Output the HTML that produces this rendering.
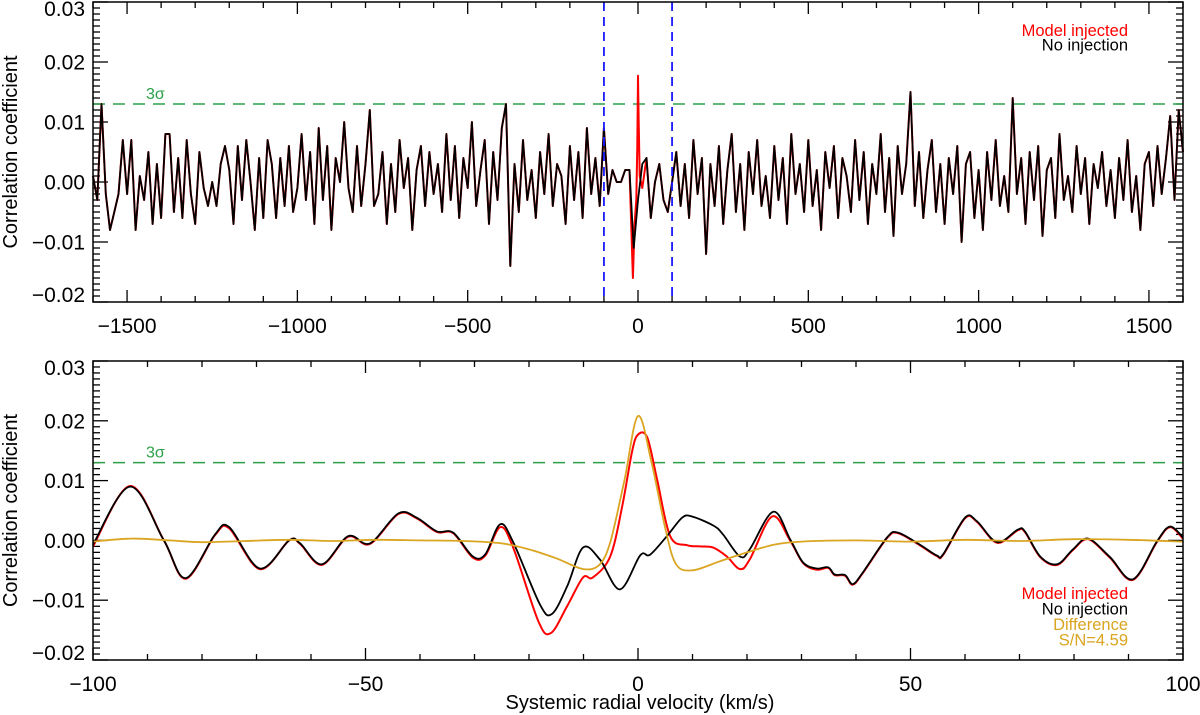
<!DOCTYPE html>
<html><head><meta charset="utf-8"><style>
body{margin:0;background:#fff;}
svg{display:block;font-family:"Liberation Sans",sans-serif;}
</style></head><body>
<svg id="chart" width="1200" height="715" viewBox="0 0 1200 715" xmlns="http://www.w3.org/2000/svg"></svg>
<script>
// ---- data ----
const topStartV = -1600;
const topStepV = 12.5;
const topBlack = [1,-3,13,-2,-8,-5,-2,7,-2,7,-8,1,-3,5,-7,3,-6,8,8,-5,
4,-6,7,-2,-7,5,-1,-4,0,-4,3,6,2,-7,6,-3,7,0,-8,4,
-6,7,3,-6,4,-4,6,-5,-1,8,-3,5,-7,9,-3,6,-8,4,0,10,
-1,-5,6,-4,3,12,-4,-2,5,-7,3,-5,7,-1,4,-8,2,6,-4,5,
-2,3,-5,8,-3,6,-6,4,-1,10,-4,2,7,-7,5,-3,9,13,-14,3,
-5,7,-3,2,-6,5,-2,8,-4,3,1,-7,6,-3,5,-6,9,-2,4,-4,
9,-2,2,0,0,2,2,-11,-3,3,4,-6,0,3,-3,-5,0,5,-4,3,
-6,7,-2,4,-12,3,-4,6,-7,2,8,-5,3,-8,5,-2,7,-4,1,-6,
6,-3,4,-7,8,-2,3,-5,7,-4,2,-8,5,-1,6,-6,4,1,-5,7,
-3,5,-7,3,-2,8,-5,4,-9,6,-2,3,15,-4,5,-6,2,7,-5,3,
-7,4,-2,6,-10,3,5,-6,2,-8,5,-3,7,-4,1,-5,14,-2,4,-7,
5,-3,6,-9,2,4,-6,8,-3,1,-5,6,-2,4,-7,3,-1,5,-4,2,
-6,4,-3,7,-5,1,-8,3,5,-4,6,-2,4,11,-3,12,5];
const topRedV = [-25,-15,-10,-5,-2,0,2,5,12.5];
const topRedY = [2,-16,-7,-3,6,17.7,10,1,-1];

const botBlackV = [-100,-93.2,-87,-83,-77.6,-75,-69.4,-64,-62,-58,-53.2,-49.2,-44,-40.6,-36.9,-33.9,-30.3,-28,-25.3,-22.9,-18,-15.8,-13,-10.1,-7,-3.3,0.4,2.2,5.3,8.1,9.9,13.8,15.6,18.7,20.5,24.8,27.9,30.3,32.8,34.9,36.1,38,39.4,41.3,45.7,47.7,51.7,54.8,56,60,62.2,65.9,69.7,71,73.8,76.9,79.8,82.6,86.6,90.8,95.2,97.6,100];
const botBlackY = [-0.7,9,0,-6.3,1,2.2,-4.7,0,-0.5,-4,0.7,-0.5,4.5,3.8,1.5,1.3,-2.7,-2.3,2.7,-0.3,-10.7,-12.3,-7.7,-1.2,-3.2,-8.2,-2.5,-2.4,0.7,3.8,4,2.5,1,-2.7,-1.5,4.8,0.2,-3.7,-4.7,-4.5,-5.7,-5.8,-7.3,-5.3,0.5,1.3,-0.7,-2.5,-2.3,3.8,3.2,-0.3,1.8,1.5,-2.7,-4,-1.5,0.3,-2.8,-6.5,-0.2,2.3,0.5];
const botRedV = [-100,-93.2,-87,-83,-77.6,-75,-69.4,-64,-62,-58,-53.2,-49.2,-44,-40.6,-36.9,-33.9,-30.3,-28,-25.3,-22.9,-18.3,-16,-13,-10.1,-8.3,-5.1,-2.9,-1.1,0,1.7,3.5,5.9,9,11.4,13.8,16.3,18.7,20.5,24.6,27.9,30.3,32.8,34.9,36.1,38,39.4,41.3,45.7,47.7,51.7,54.8,56,60,62.2,65.9,69.7,71,73.8,76.9,79.8,82.6,86.6,90.8,95.2,97.6,100];
const botRedY = [-1,9.1,0,-6.4,0.9,2,-4.8,0,-0.6,-4.1,0.6,-0.6,4.4,3.7,1.4,1.2,-2.9,-2.5,2.2,-1.2,-13.5,-15.5,-11,-6.2,-6.2,-2.7,5.7,14.8,17.7,17.2,10.2,0.7,-0.8,-1,-1.2,-2.7,-4.8,-3.2,4,0,-3.8,-4.9,-4.6,-5.8,-5.9,-7.4,-5.4,0.4,1.2,-0.8,-2.6,-2.4,3.7,3.1,-0.4,1.7,1.4,-2.8,-4.1,-1.6,0.2,-2.9,-6.6,-0.3,2.2,0.3];
const botDiffV = [-100,-93,-86,-80,-72,-64,-56,-48,-40,-32,-25,-20,-15,-10,-7,-5,-2.5,0,2.5,5,7,10,15,20,25,30,40,50,60,70,80,90,100];
const botDiffY = [-0.2,0.3,0,-0.3,-0.1,0.1,-0.1,0.1,0,-0.1,-0.5,-1.5,-3,-4.8,-4,0,10,20.8,13,2,-4,-5,-3.5,-2,-0.7,-0.2,0,-0.2,0.1,-0.1,0.2,0.1,-0.2];
const topXTicks = [-1500,-1000,-500,0,500,1000,1500];
const botXTicks = [-100,-50,0,50,100];
const yTicks = [-0.02,-0.01,0,0.01,0.02,0.03];
const yTickLabels = ["\u22120.02","\u22120.01","0.00","0.01","0.02","0.03"];
const sigma3 = 0.013;

// ---- drawing ----
const NS="http://www.w3.org/2000/svg";
const svg=document.getElementById('chart');
function mk(tag,attrs,parent){const e=document.createElementNS(NS,tag);for(const k in attrs)e.setAttribute(k,attrs[k]);(parent||svg).appendChild(e);return e;}
const L=93,R=1183;
function panel(name,top,bot,xmin,xmax,xTicks,xMinorStep){
  const g=mk('g',{});
  
  
  const sx=v=>L+(v-xmin)/(xmax-xmin)*(R-L);
  const sy=y=>bot-(y+0.02)/0.05*(bot-top);
  for(let i=-20;i<=30;i++){
    const y=sy(i/1000);const maj=(i%10===0);const len=maj?15:7;
    mk('line',{x1:L,x2:L+len,y1:y,y2:y,stroke:'#000','stroke-width':1.3},g);
    mk('line',{x1:R,x2:R-len,y1:y,y2:y,stroke:'#000','stroke-width':1.3},g);
  }
  yTicks.forEach((t,i)=>{
    let y=sy(t)+7.5; if(i===0) y=bot; if(i===yTicks.length-1) y=top+14;
    const tx=mk('text',{x:L-8,y:y,'text-anchor':'end','font-size':21},g);
    tx.textContent=yTickLabels[i];
    
    
  });
  for(let v=xmin;v<=xmax+1e-9;v+=xMinorStep){
    const x=sx(v);const maj=xTicks.some(t=>Math.abs(t-v)<1e-6);const len=maj?12:6;
    mk('line',{x1:x,x2:x,y1:bot,y2:bot-len,stroke:'#000','stroke-width':1.3},g);
    mk('line',{x1:x,x2:x,y1:top,y2:top+len,stroke:'#000','stroke-width':1.3},g);
  }
  xTicks.forEach(t=>{
    const tx=mk('text',{x:sx(t),y:bot+31,'text-anchor':'middle','font-size':21},g);
    tx.textContent=(t<0?'\u2212':'')+Math.abs(t);
    
    
  });
  const yt=mk('text',{x:0,y:0,'text-anchor':'middle','font-size':20,transform:`translate(17,${(top+bot)/2}) rotate(-90)`},g);
  yt.textContent='Correlation coefficient';
  
  
  const sl=mk('line',{x1:L,x2:R,y1:sy(sigma3),y2:sy(sigma3),stroke:'#2ca048','stroke-width':1.5,'stroke-dasharray':'12,8'},g);
  
  
  const st=mk('text',{x:146,y:sy(sigma3)-5,'font-size':16,fill:'#2ca048'},g);
  st.textContent='3\u03c3';
  
  
  return {g,sx,sy};
}
function line(g,pts,color,w,name){
  const p=mk('polyline',{points:pts.map(q=>q[0].toFixed(1)+','+q[1].toFixed(1)).join(' '),fill:'none',stroke:color,'stroke-width':w,'stroke-linejoin':'round'},g);
  
  
}
function smooth(g,pts,color,w,name){
  let d='M'+pts[0][0].toFixed(1)+','+pts[0][1].toFixed(1);
  for(let i=0;i<pts.length-1;i++){
    const p0=pts[Math.max(0,i-1)],p1=pts[i],p2=pts[i+1],p3=pts[Math.min(pts.length-1,i+2)];
    const c1=[p1[0]+(p2[0]-p0[0])/6,p1[1]+(p2[1]-p0[1])/6];
    const c2=[p2[0]-(p3[0]-p1[0])/6,p2[1]-(p3[1]-p1[1])/6];
    d+=` C${c1[0].toFixed(1)},${c1[1].toFixed(1)} ${c2[0].toFixed(1)},${c2[1].toFixed(1)} ${p2[0].toFixed(1)},${p2[1].toFixed(1)}`;
  }
  const p=mk('path',{d:d,fill:'none',stroke:color,'stroke-width':w,'stroke-linejoin':'round'},g);
  
  
}
function legend(g,items,yStart,dy){
  items.forEach((it,i)=>{
    const t=mk('text',{x:1128,y:yStart+i*dy,'text-anchor':'end','font-size':16.5,fill:it[1]},g);
    t.textContent=it[0];
    
    
  });
}
// top panel
const P1=panel('top-panel',2,302,-1600,1600,topXTicks,100);
const tb=topBlack.map((y,i)=>[topStartV+i*topStepV,y/1000]);
const tr=tb.filter(p=>p[0]<topRedV[0]).concat(topRedV.map((v,i)=>[v,topRedY[i]/1000])).concat(tb.filter(p=>p[0]>topRedV[topRedV.length-1]));
line(P1.g,tr.map(p=>[P1.sx(p[0]),P1.sy(p[1])]),'#ff0000',2,'model-injected-line');
line(P1.g,tb.map(p=>[P1.sx(p[0]),P1.sy(p[1])]),'#000',1.8,'no-injection-line');
[-100,100].forEach(v=>{
  const b=mk('line',{x1:P1.sx(v),x2:P1.sx(v),y1:2,y2:302,stroke:'#1a1aff','stroke-width':1.8,'stroke-dasharray':'9,6'},P1.g);
  
  
});
mk('rect',{x:L,y:2,width:R-L,height:300,fill:'none',stroke:'#000','stroke-width':1.5},P1.g);
legend(P1.g,[['Model injected','#ff0000'],['No injection','#000']],36,14.5);
// bottom panel
const P2=panel('bottom-panel',361,660,-100,100,botXTicks,10);
smooth(P2.g,botRedV.map((v,i)=>[P2.sx(v),P2.sy(botRedY[i]/1000)]),'#ff0000',2,'model-injected-line');
smooth(P2.g,botBlackV.map((v,i)=>[P2.sx(v),P2.sy(botBlackY[i]/1000)]),'#000',1.8,'no-injection-line');
smooth(P2.g,botDiffV.map((v,i)=>[P2.sx(v),P2.sy(botDiffY[i]/1000)]),'#daa520',1.8,'difference-line');
mk('rect',{x:L,y:361,width:R-L,height:299,fill:'none',stroke:'#000','stroke-width':1.5},P2.g);
legend(P2.g,[['Model injected','#ff0000'],['No injection','#000'],['Difference','#daa520'],['S/N=4.59','#daa520']],599,15.5);
const xt=mk('text',{x:640,y:709,'text-anchor':'middle','font-size':20});
xt.textContent='Systemic radial velocity (km/s)';


</script>
</body></html>
